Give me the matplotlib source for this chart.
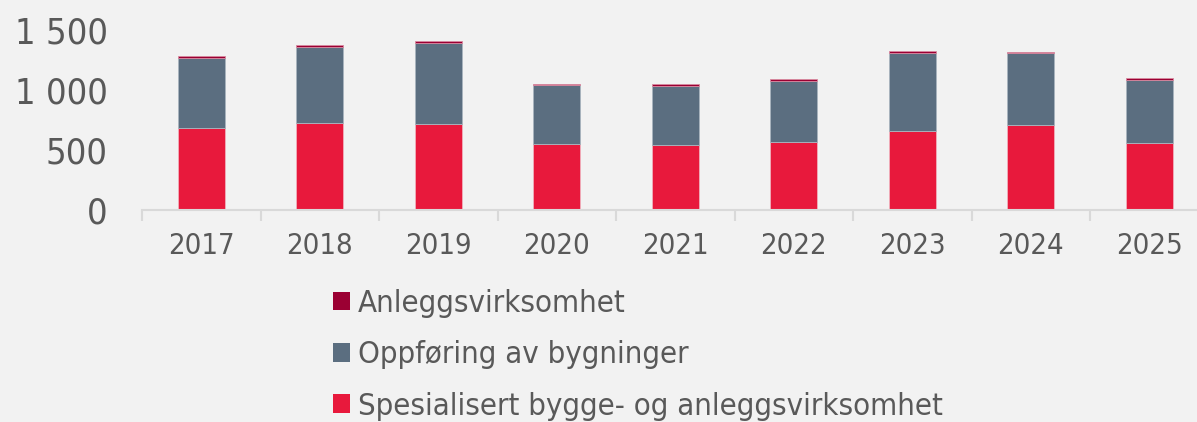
import matplotlib
matplotlib.use("Agg")
import matplotlib.pyplot as plt
from matplotlib.patches import Patch
import numpy as np

years = ["2017", "2018", "2019", "2020", "2021", "2022", "2023", "2024", "2025"]
spesialisert = [680, 722, 713, 547, 538, 563, 658, 705, 555]
oppforing = [583, 639, 681, 491, 495, 515, 647, 600, 528]
anlegg = [18, 14, 11, 14, 14, 10, 18, 14, 14]

labels = ["Anleggsvirksomhet", "Oppføring av bygninger", "Spesialisert bygge- og anleggsvirksomhet"]
c_red = "#E8193C"
c_gray = "#5B6E80"
c_dark = "#9B0033"
bg = "#F2F2F2"
txt = "#595959"

plt.rcParams['font.family'] = ['DejaVu Sans']
plt.rcParams['font.stretch'] = 'condensed'

fig = plt.figure(figsize=(11.97, 4.22), dpi=100, facecolor=bg)
ax = fig.add_axes([142/1197, 212/422, 1066.5/1197, 180/422])
ax.set_facecolor(bg)

x = np.arange(len(years))
w = 0.40
sp = np.array(spesialisert)
op = np.array(oppforing)
an = np.array(anlegg)
ax.bar(x, sp, w, color=c_red, edgecolor="#F0B0BC", linewidth=0.6)
ax.bar(x, op, w, bottom=sp, color=c_gray, edgecolor="#A9B4BF", linewidth=0.6)
ax.bar(x, an, w, bottom=sp + op, color=c_dark, edgecolor="#D98AA0", linewidth=0.6)

ax.set_xlim(-0.5, len(years) - 0.5)
ax.set_ylim(0, 1500)
ax.set_yticks([0, 500, 1000, 1500])
ax.set_yticklabels(["0", "500", "1 000", "1 500"])
ax.tick_params(axis="y", length=0, labelsize=26, labelcolor=txt, pad=24.5)

ax.set_xticks(x)
ax.set_xticklabels(years)
ax.set_xticks(np.arange(len(years) + 1) - 0.5, minor=True)
ax.tick_params(axis="x", which="major", length=0, labelsize=21, labelcolor=txt, pad=16)
ax.tick_params(axis="x", which="minor", length=8, width=1.5, color="#D9D9D9")

for s in ["top", "right", "left"]:
    ax.spines[s].set_visible(False)
ax.spines["bottom"].set_color("#D9D9D9")
ax.spines["bottom"].set_linewidth(1.5)

handles = [Patch(facecolor=c_dark), Patch(facecolor=c_gray), Patch(facecolor=c_red)]
fig.legend(handles, labels, loc="upper left", bbox_to_anchor=(333/1197, 1 - 289/422),
           frameon=False, fontsize=22.3, labelcolor=txt, handlelength=0.55, handleheight=0.55,
           handletextpad=0.26, labelspacing=0.72, borderaxespad=0, borderpad=0)

fig.savefig("out.png", dpi=100, facecolor=bg)
